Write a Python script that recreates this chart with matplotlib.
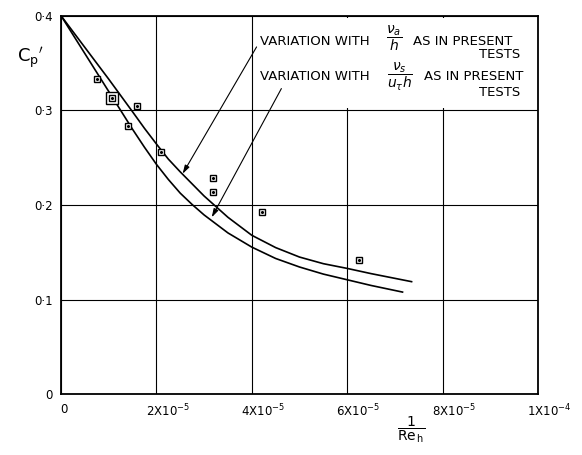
import matplotlib
matplotlib.use("Agg")
import matplotlib.pyplot as plt
from matplotlib.patches import Rectangle
from matplotlib.transforms import ScaledTranslation

plt.rcParams['font.family'] = ['DejaVu Sans']
plt.rcParams['mathtext.fontset'] = 'dejavusans'

# 1/Re_h in units of 1e-5
inv_re_nu_a = [0, 0.5, 1.0, 1.5, 1.75, 2.0, 2.25, 2.5, 3.0, 3.5, 4.0, 4.5, 5.0, 5.5, 6.0, 6.5, 7.0, 7.35]
cp_nu_a = [0.400, 0.3665, 0.333, 0.2985, 0.281, 0.2645, 0.2485, 0.235, 0.2095, 0.187, 0.168,
           0.155, 0.145, 0.138, 0.133, 0.1275, 0.1225, 0.119]

inv_re_nu_s = [0, 0.5, 1.0, 1.5, 1.75, 2.0, 2.25, 2.5, 2.75, 3.0, 3.5, 4.0, 4.5, 5.0, 5.5, 6.0, 6.5, 7.16]
cp_nu_s = [0.400, 0.360, 0.320, 0.280, 0.261, 0.243, 0.227, 0.2125, 0.2005, 0.1895, 0.1705,
           0.1555, 0.1435, 0.1345, 0.127, 0.121, 0.115, 0.108]

test_inv_re = [0.76, 1.40, 1.59, 2.10, 3.18, 3.18, 4.21, 6.24]
test_cp = [0.333, 0.2835, 0.305, 0.256, 0.2285, 0.2134, 0.1926, 0.1422]

ringed_inv_re = [1.07]
ringed_cp = [0.313]

x_ticks = [0, 2, 4, 6, 8, 10]
x_tick_labels = ["0", "2X10$^{-5}$", "4X10$^{-5}$", "6X10$^{-5}$", "8X10$^{-5}$", "1X10$^{-4}$"]
y_ticks = [0, 0.1, 0.2, 0.3, 0.4]
y_tick_labels = ["0", "0·1", "0·2", "0·3", "0·4"]

fig = plt.figure(figsize=(5.82, 4.55), dpi=100)
ax = fig.add_axes([61 / 582, 1 - 394.3 / 455, 477 / 582, (394.3 - 15.7) / 455])

ax.set_xlim(0, 10)
ax.set_ylim(0, 0.4)
ax.set_xticks(x_ticks)
ax.set_xticklabels(x_tick_labels, fontsize=8.5)
ax.set_yticks(y_ticks)
ax.set_yticklabels(y_tick_labels, fontsize=8.5)
ax.tick_params(axis='both', length=0, colors='black')
ax.tick_params(axis='x', pad=6)
ax.tick_params(axis='y', pad=6)

# nudge the x labels to the right, as lettered on the sheet
for i, lab in enumerate(ax.get_xticklabels()):
    dx = 2 / 72 if i == 0 else 8 / 72
    lab.set_transform(lab.get_transform() + ScaledTranslation(dx, 0, fig.dpi_scale_trans))

ax.set_axisbelow(True)
ax.grid(True, color='black', linewidth=0.8)
for sp in ax.spines.values():
    sp.set_linewidth(1.3)
    sp.set_color('black')

# blank panel behind the legend lettering
ax.add_patch(Rectangle((4.06, 0.302), 5.9, 0.096, facecolor='white',
                       edgecolor='none', zorder=1))

ax.plot(inv_re_nu_a, cp_nu_a, color='black', linewidth=1.2, zorder=2)
ax.plot(inv_re_nu_s, cp_nu_s, color='black', linewidth=1.2, zorder=2)

ax.plot(test_inv_re, test_cp, linestyle='none', marker='s', markersize=5,
        markerfacecolor='white', markeredgecolor='black', markeredgewidth=1.0, zorder=3)
ax.plot(ringed_inv_re, ringed_cp, linestyle='none', marker='s', markersize=9,
        markerfacecolor='white', markeredgecolor='black', markeredgewidth=1.0, zorder=3)
ax.plot(ringed_inv_re, ringed_cp, linestyle='none', marker='s', markersize=5,
        markerfacecolor='white', markeredgecolor='black', markeredgewidth=1.0, zorder=3)
ax.plot(test_inv_re + ringed_inv_re, test_cp + ringed_cp, linestyle='none',
        marker='o', markersize=1.2, color='black', zorder=4)

# legend lettering
txt_kw = dict(fontsize=9.5, color='black', va='baseline', zorder=5)
frac_kw = dict(fontsize=10, color='black', va='center', ha='center', zorder=5)
ax.text(4.17, 0.369, "VARIATION WITH", ha='left', **txt_kw)
ax.text(6.99, 0.3761, r"$\dfrac{\nu_a}{h}$", **frac_kw)
ax.text(7.37, 0.369, "AS IN PRESENT", ha='left', **txt_kw)
ax.text(9.63, 0.355, "TESTS", ha='right', **txt_kw)

ax.text(4.17, 0.332, "VARIATION WITH", ha='left', **txt_kw)
ax.text(7.10, 0.3349, r"$\dfrac{\nu_s}{u_\tau h}$", **frac_kw)
ax.text(7.62, 0.332, "AS IN PRESENT", ha='left', **txt_kw)
ax.text(9.63, 0.315, "TESTS", ha='right', **txt_kw)

arrow_kw = dict(arrowstyle='-|>,head_length=0.5,head_width=0.15', color='black',
                lw=0.8, shrinkA=0, shrinkB=0)
ax.annotate("", xy=(2.55, 0.233), xytext=(4.10, 0.367), arrowprops=arrow_kw, zorder=5)
ax.annotate("", xy=(3.16, 0.187), xytext=(4.62, 0.323), arrowprops=arrow_kw, zorder=5)

fig.text(30 / 582, 1 - 58 / 455, r"$\mathrm{C_p}'$", fontsize=13, ha='center', va='center')
fig.text(411 / 582, 1 - 430 / 455, r"$\dfrac{\mathrm{1}}{\mathrm{Re}_{\,\mathrm{h}}}$",
         fontsize=10, ha='center', va='center')

fig.savefig("out.png", dpi=100)
